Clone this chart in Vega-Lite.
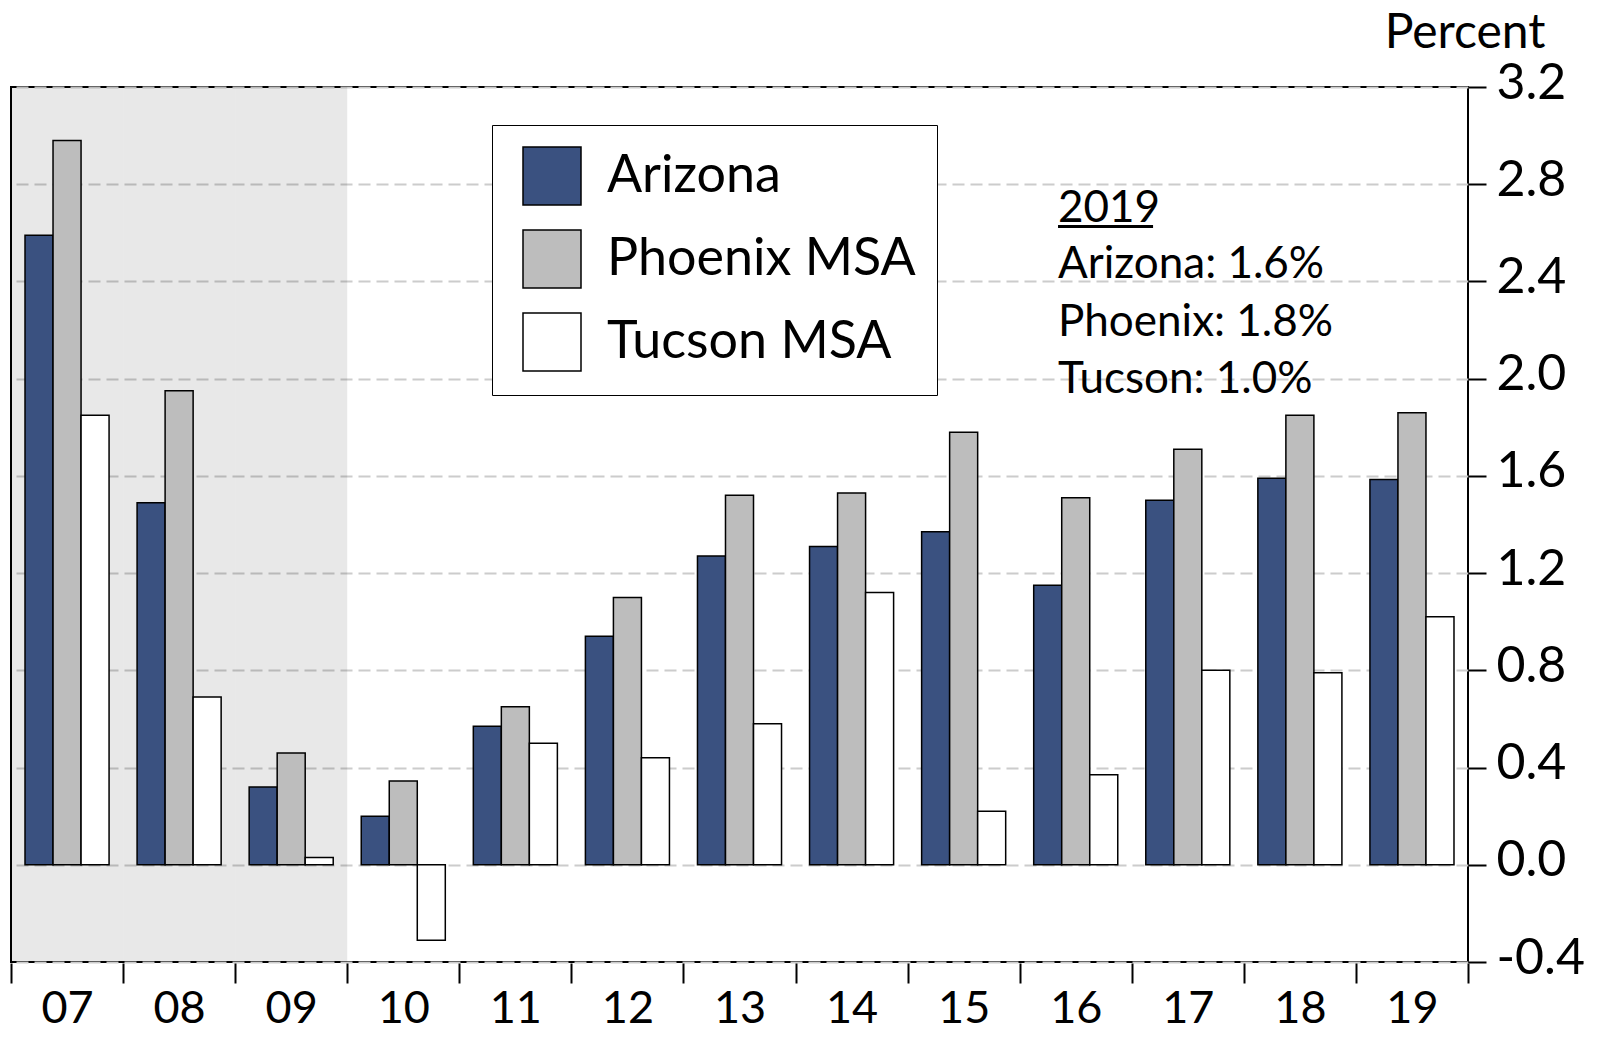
{
  "$schema": "https://vega.github.io/schema/vega-lite/v6.json",
  "width": 1457,
  "height": 875,
  "autosize": {"type": "none"},
  "padding": {"left": 11, "top": 87, "right": 130, "bottom": 78},
  "background": "white",
  "config": {
    "font": "Lato",
    "view": {"stroke": "black", "strokeWidth": 2},
    "legend": {
      "orient": "none",
      "legendX": 481,
      "legendY": 38,
      "fillColor": "white",
      "strokeColor": "black",
      "padding": 21,
      "symbolOffset": 9,
      "labelFontSize": 52,
      "labelFont": "Lato",
      "labelColor": "black",
      "labelOffset": 25,
      "labelLimit": 600,
      "symbolType": "square",
      "symbolSize": 3364,
      "symbolStrokeColor": "black",
      "symbolStrokeWidth": 1.5,
      "rowPadding": 19,
      "title": null
    }
  },
  "datasets": {
    "growth": [
      {"year": "07", "series": "Arizona", "value": 2.59},
      {"year": "07", "series": "Phoenix MSA", "value": 2.98},
      {"year": "07", "series": "Tucson MSA", "value": 1.85},
      {"year": "08", "series": "Arizona", "value": 1.49},
      {"year": "08", "series": "Phoenix MSA", "value": 1.95},
      {"year": "08", "series": "Tucson MSA", "value": 0.69},
      {"year": "09", "series": "Arizona", "value": 0.32},
      {"year": "09", "series": "Phoenix MSA", "value": 0.46},
      {"year": "09", "series": "Tucson MSA", "value": 0.03},
      {"year": "10", "series": "Arizona", "value": 0.20},
      {"year": "10", "series": "Phoenix MSA", "value": 0.345},
      {"year": "10", "series": "Tucson MSA", "value": -0.31},
      {"year": "11", "series": "Arizona", "value": 0.57},
      {"year": "11", "series": "Phoenix MSA", "value": 0.65},
      {"year": "11", "series": "Tucson MSA", "value": 0.50},
      {"year": "12", "series": "Arizona", "value": 0.94},
      {"year": "12", "series": "Phoenix MSA", "value": 1.10},
      {"year": "12", "series": "Tucson MSA", "value": 0.44},
      {"year": "13", "series": "Arizona", "value": 1.27},
      {"year": "13", "series": "Phoenix MSA", "value": 1.52},
      {"year": "13", "series": "Tucson MSA", "value": 0.58},
      {"year": "14", "series": "Arizona", "value": 1.31},
      {"year": "14", "series": "Phoenix MSA", "value": 1.53},
      {"year": "14", "series": "Tucson MSA", "value": 1.12},
      {"year": "15", "series": "Arizona", "value": 1.37},
      {"year": "15", "series": "Phoenix MSA", "value": 1.78},
      {"year": "15", "series": "Tucson MSA", "value": 0.22},
      {"year": "16", "series": "Arizona", "value": 1.15},
      {"year": "16", "series": "Phoenix MSA", "value": 1.51},
      {"year": "16", "series": "Tucson MSA", "value": 0.37},
      {"year": "17", "series": "Arizona", "value": 1.50},
      {"year": "17", "series": "Phoenix MSA", "value": 1.71},
      {"year": "17", "series": "Tucson MSA", "value": 0.80},
      {"year": "18", "series": "Arizona", "value": 1.59},
      {"year": "18", "series": "Phoenix MSA", "value": 1.85},
      {"year": "18", "series": "Tucson MSA", "value": 0.79},
      {"year": "19", "series": "Arizona", "value": 1.585},
      {"year": "19", "series": "Phoenix MSA", "value": 1.86},
      {"year": "19", "series": "Tucson MSA", "value": 1.02}
    ],
    "recession": [
      {"year": "07"}, {"year": "08"}, {"year": "09"}
    ],
    "note": [
      {"line": "2019"}
    ]
  },
  "layer": [
    {
      "data": {"name": "recession"},
      "mark": {"type": "bar", "fill": "black", "fillOpacity": 0.09, "strokeWidth": 0},
      "encoding": {
        "x": {
          "field": "year", "type": "nominal",
          "scale": {"type": "band", "paddingInner": 0, "paddingOuter": 0,
                    "domain": ["07","08","09","10","11","12","13","14","15","16","17","18","19"]},
          "axis": {
            "orient": "bottom", "title": null, "domain": false, "grid": false,
            "tickBand": "extent", "tickSize": 20, "tickColor": "black", "tickWidth": 2,
            "offset": 1,
            "labelFontSize": 45, "labelColor": "black", "labelPadding": 3, "labelAngle": 0
          }
        },
        "y": {
          "datum": 3.2, "type": "quantitative",
          "scale": {"domain": [-0.4, 3.2], "nice": false, "zero": false},
          "axis": {
            "orient": "right", "values": [-0.4, 0, 0.4, 0.8, 1.2, 1.6, 2.0, 2.4, 2.8, 3.2],
            "labelExpr": "replace(format(datum.value, '.1f'), '\u2212', '-')",
            "domain": false, "grid": true, "gridColor": "#cccccc", "gridWidth": 2,
            "gridDash": [12, 6], "tickSize": 18, "tickColor": "black", "tickWidth": 2,
            "labelFontSize": 50, "labelColor": "black", "labelPadding": 10,
            "labelBaseline": "middle", "labelOffset": -4, "labelFlush": false,
            "title": "Percent", "titleAngle": 0, "titleAlign": "right",
            "titleBaseline": "alphabetic", "titleX": 77, "titleY": -40,
            "titleFontSize": 48, "titleFontWeight": "normal", "titleColor": "black"
          }
        },
        "y2": {"datum": -0.4}
      }
    },
    {
      "data": {"name": "growth"},
      "mark": {"type": "bar", "stroke": "black", "strokeWidth": 1.5},
      "encoding": {
        "x": {"field": "year", "type": "nominal"},
        "xOffset": {
          "field": "series", "type": "nominal",
          "scale": {"domain": ["Arizona", "Phoenix MSA", "Tucson MSA"], "paddingInner": 0, "paddingOuter": 0.5}
        },
        "y": {"field": "value", "type": "quantitative"},
        "fill": {
          "field": "series", "type": "nominal",
          "scale": {"domain": ["Arizona", "Phoenix MSA", "Tucson MSA"], "range": ["#3a5180", "#bdbdbd", "#ffffff"]},
          "legend": {"title": null}
        }
      }
    },
    {
      "data": {"name": "note"},
      "layer": [
        {
          "mark": {"type": "text", "fontSize": 44, "align": "left", "baseline": "middle", "color": "black", "text": "2019"},
          "encoding": {
            "x": {"datum": "16", "bandPosition": 0.342},
            "y": {"datum": 2.70}
          }
        },
        {
          "mark": {"type": "rule", "color": "black", "strokeWidth": 3},
          "encoding": {
            "x": {"datum": "16", "bandPosition": 0.342},
            "x2": {"datum": "17", "bandPosition": 0.19},
            "y": {"datum": 2.626}
          }
        },
        {
          "mark": {"type": "text", "fontSize": 44, "align": "left", "baseline": "middle", "color": "black", "text": "Arizona: 1.6%"},
          "encoding": {
            "x": {"datum": "16", "bandPosition": 0.342},
            "y": {"datum": 2.466}
          }
        },
        {
          "mark": {"type": "text", "fontSize": 44, "align": "left", "baseline": "middle", "color": "black", "text": "Phoenix: 1.8%"},
          "encoding": {
            "x": {"datum": "16", "bandPosition": 0.342},
            "y": {"datum": 2.231}
          }
        },
        {
          "mark": {"type": "text", "fontSize": 44, "align": "left", "baseline": "middle", "color": "black", "text": "Tucson: 1.0%"},
          "encoding": {
            "x": {"datum": "16", "bandPosition": 0.342},
            "y": {"datum": 1.996}
          }
        }
      ]
    }
  ]
}
